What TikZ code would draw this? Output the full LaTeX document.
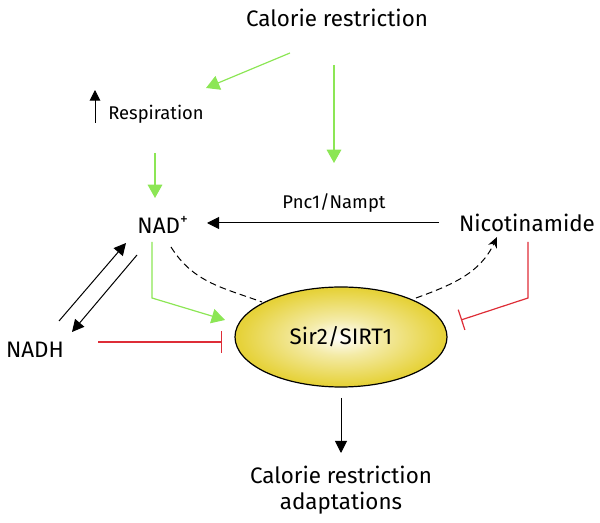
\documentclass[tikz,border=0pt]{standalone}
\usepackage{fontspec}
\setmainfont{Fira Sans}
\usetikzlibrary{arrows.meta, calc, shapes.geometric}
\definecolor{actgreen}{RGB}{140,230,85}
\definecolor{inhred}{RGB}{222,45,55}
\definecolor{sirtyellow}{RGB}{230,210,58}
\pgfdeclareradialshading{sirtshade}{\pgfpoint{0bp}{0bp}}{%
	color(0bp)=(white); color(9bp)=(white!55!sirtyellow);
	color(24bp)=(sirtyellow); color(42bp)=(sirtyellow!92!black);
	color(50bp)=(sirtyellow!92!black)}

\begin{document}
\begin{tikzpicture}[x=0.75pt, y=-0.75pt,
	big/.style={font=\fontsize{16.8}{19.5}\selectfont},
	small/.style={font=\fontsize{13.8}{16}\selectfont},
	act/.style={draw=actgreen, line width=0.9pt, -{Triangle[length=10pt,width=11pt]}, actgreen},
	blk/.style={line width=0.75pt, -{Triangle[length=9pt,width=9pt]}},
	inh/.style={draw=inhred, line width=0.9pt, -{Bar[width=16pt]}},
	sirtnode/.style={ellipse, draw, line width=0.9pt, minimum width=159pt, minimum height=75pt, inner sep=0pt, shading=sirtshade}]
		\useasboundingbox (0,0) rectangle (600,523);
		
		% nodes
		\node[big] (cr) at (337,18) {Calorie restriction};
		\node[small] (resp) at (156,114) {Respiration};
		\node[big] (nad) at (163,225) {NAD\textsuperscript{+}};
		\node[big] (nic) at (527,223) {Nicotinamide};
		\node[small] (pnc) at (334,203) {Pnc1/Nampt};
		\node[big] (nadh) at (35,350) {NADH};
		\node[sirtnode, big] (sirt) at (341,337) {Sir2/SIRT1};
		\node[big, align=center] (cra) at (341,490) {Calorie restriction\\adaptations};
		
		% activation
		\draw[act] ($(cr)+(-47,35)$) -- ($(resp)+(50,-26)$);
		\draw[act] ($(cr)+(-3,47)$) -- ($(cr)+(-3,145)$);
		\draw[act] ($(resp)+(-1,39)$) -- ($(nad)+(-8,-27)$);
		\draw[act] ($(nad)+(-11,17)$) -- ($(nad)+(-11,73)$) -- ($(sirt)+(-116,-17)$);
		\draw[blk, -{Triangle[length=8pt,width=8pt]}] ($(resp)+(-61,9)$) -- ($(resp)+(-61,-24)$);
		
		% NAD cycle
		\draw[blk] ($(nic)+(-88,0)$) -- ($(nad)+(44,-2)$);
		\draw[blk] ($(nadh)+(24,-29)$) -- ($(nad)+(-37,18)$);
		\draw[blk] ($(nad)+(-26,30)$) -- ($(nadh)+(37,-18)$);
		\draw[line width=0.75pt, dash pattern=on 5pt off 3pt] ($(nad)+(8,22)$) to[out=-58, in=160] ($(sirt)+(-79,-35)$);
		\draw[line width=0.75pt, dash pattern=on 5pt off 3pt, -{Stealth[length=8pt,width=7pt]}] ($(sirt)+(75,-39)$) to[out=20, in=-115] ($(nic)+(-30,14)$);
		
		% inhibition
		\draw[inh] ($(nadh)+(63,-8)$) -- ($(sirt)+(-119,5)$);
		\draw[inh] ($(nic)+(1,19)$) -- ($(nic)+(1,75)$) -- ($(sirt)+(120,-17)$);
		
		\draw[blk] ($(sirt)+(0,61)$) -- ($(cra)+(0,-37)$);
\end{tikzpicture}
\end{document}
